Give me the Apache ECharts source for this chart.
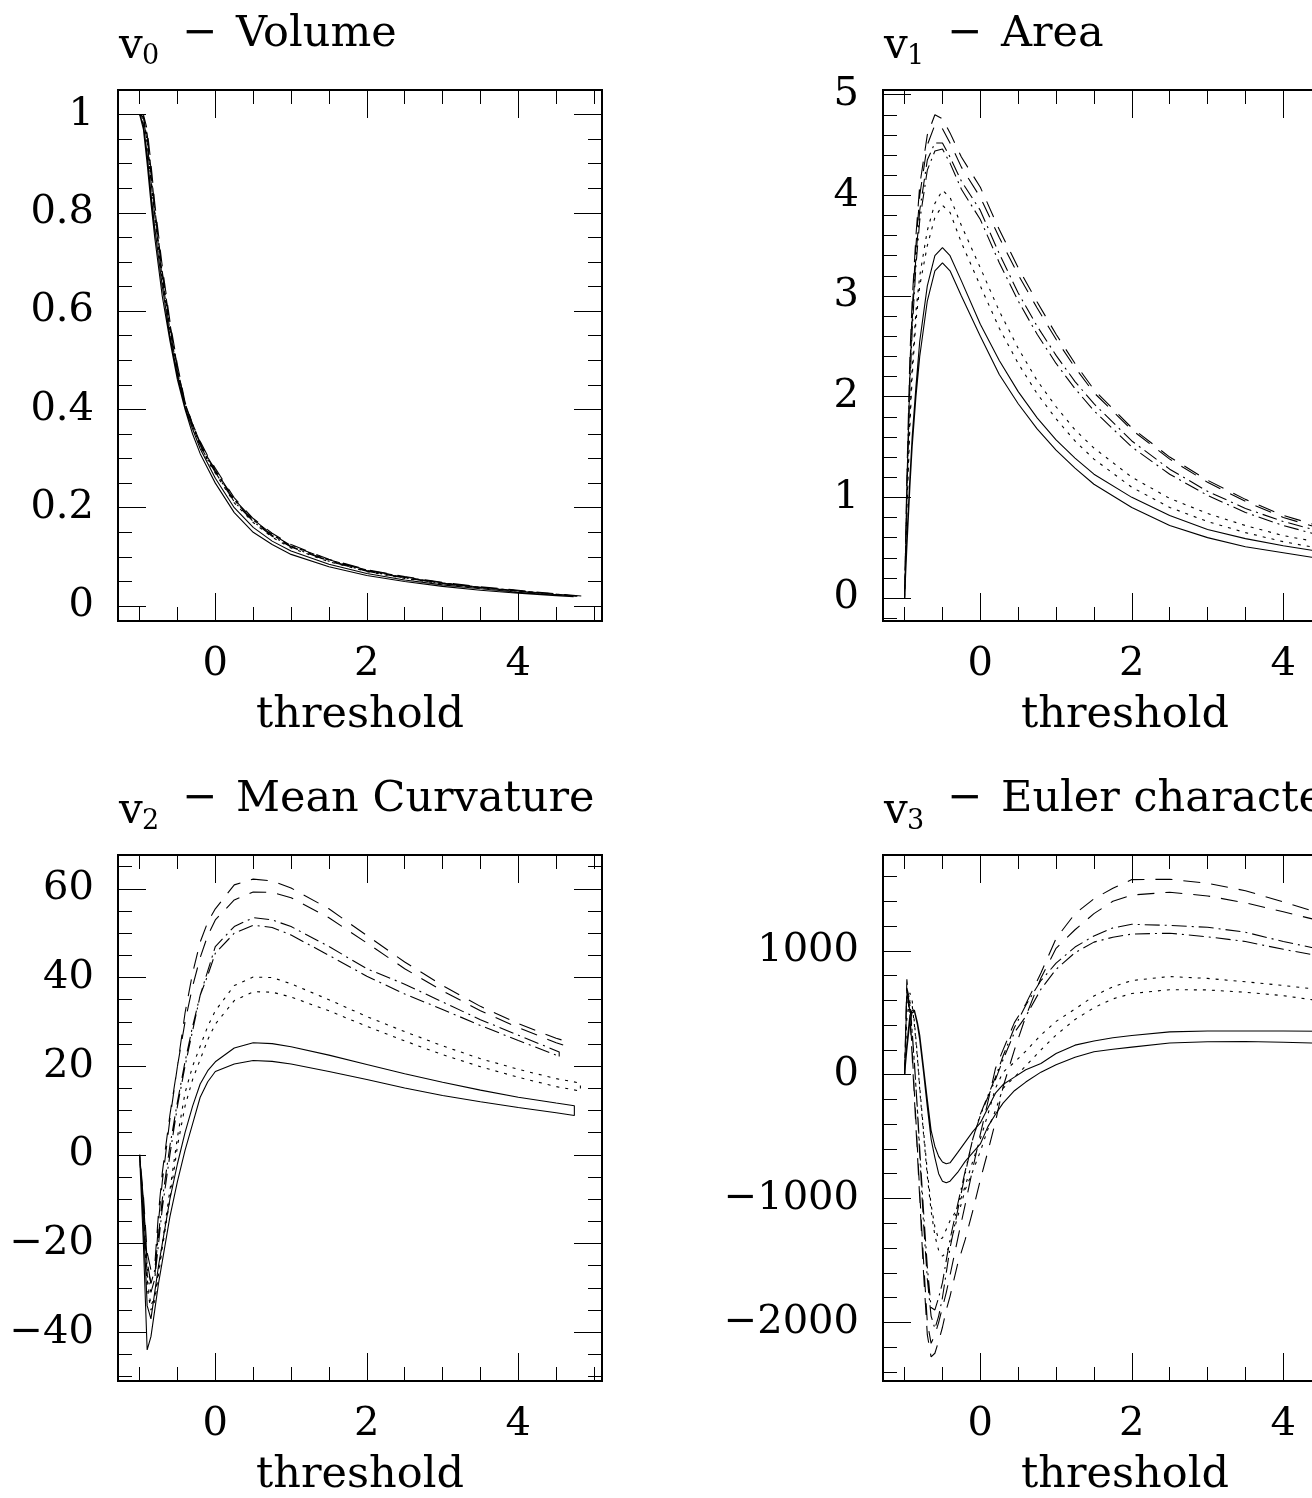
<!DOCTYPE html>
<html><head><meta charset="utf-8">
<script src="https://cdn.jsdelivr.net/npm/echarts@6/dist/echarts.min.js"></script>
<style>html,body{margin:0;padding:0;background:#fff;overflow:hidden;width:1312px;height:1498px}#c{width:1367px;height:1498px}</style>
</head><body><div id="c"></div><script>
// ---------- tick labels ----------
const X_MAJOR = [0, 2, 4];
const X_MINOR = [-1, -0.5, 0, 0.5, 1, 1.5, 2, 2.5, 3, 3.5, 4, 4.5, 5];
const Y0_MAJOR = [0, 0.2, 0.4, 0.6, 0.8, 1];
const Y0_MINOR = [0,0.05,0.1,0.15,0.2,0.25,0.3,0.35,0.4,0.45,0.5,0.55,0.6,0.65,0.7,0.75,0.8,0.85,0.9,0.95,1];
const Y1_MAJOR = [0, 1, 2, 3, 4, 5];
const Y1_MINOR = [-0.2,0,0.2,0.4,0.6,0.8,1,1.2,1.4,1.6,1.8,2,2.2,2.4,2.6,2.8,3,3.2,3.4,3.6,3.8,4,4.2,4.4,4.6,4.8,5];
const Y2_MAJOR = [-40, -20, 0, 20, 40, 60];
const Y2_MINOR = [-50,-45,-40,-35,-30,-25,-20,-15,-10,-5,0,5,10,15,20,25,30,35,40,45,50,55,60,65];
const Y3_MAJOR = [-2000, -1000, 0, 1000];
const Y3_MINOR = [-2400,-2200,-2000,-1800,-1600,-1400,-1200,-1000,-800,-600,-400,-200,0,200,400,600,800,1000,1200,1400,1600];

// ---------- v0 : Volume ----------
const V0_X = [-1.0,-0.95,-0.9,-0.85,-0.8,-0.7,-0.6,-0.5,-0.4,-0.3,-0.2,-0.1,0,0.25,0.5,0.75,1,1.5,2,2.5,3,3.5,4,4.5];
const V0_END = {solid: 4.73, dot: 4.8, dashdot: 4.78, dash: 4.85};
const V0_SOLID_HI = [1.0,0.98,0.92,0.84,0.77,0.65,0.55,0.47,0.405,0.36,0.32,0.29,0.26,0.20,0.16,0.132,0.112,0.085,0.066,0.053,0.043,0.035,0.028,0.022,0.019];
const V0_SOLID_LO = [1.0,0.97,0.90,0.82,0.75,0.63,0.54,0.46,0.40,0.35,0.31,0.28,0.25,0.19,0.15,0.125,0.105,0.08,0.062,0.05,0.04,0.032,0.026,0.021,0.018];
const V0_DOT_HI = [1.0,0.995,0.95,0.87,0.80,0.67,0.565,0.48,0.41,0.37,0.33,0.30,0.275,0.215,0.175,0.145,0.122,0.093,0.072,0.058,0.047,0.038,0.031,0.024,0.02];
const V0_DOT_LO = [1.0,0.99,0.94,0.86,0.79,0.66,0.56,0.475,0.41,0.365,0.325,0.295,0.27,0.21,0.17,0.14,0.118,0.09,0.07,0.056,0.045,0.037,0.03,0.023,0.019];
const V0_DD_HI = [1.0,0.995,0.955,0.88,0.805,0.675,0.57,0.483,0.412,0.37,0.332,0.302,0.277,0.217,0.176,0.146,0.123,0.094,0.073,0.059,0.047,0.038,0.031,0.024,0.02];
const V0_DD_LO = [1.0,0.99,0.945,0.865,0.795,0.665,0.562,0.477,0.41,0.366,0.327,0.297,0.272,0.212,0.172,0.142,0.12,0.091,0.071,0.057,0.046,0.037,0.03,0.023,0.019];
const V0_DASH_HI = [1.0,1.0,0.97,0.90,0.82,0.69,0.58,0.49,0.415,0.37,0.335,0.305,0.28,0.22,0.178,0.148,0.125,0.095,0.074,0.06,0.048,0.039,0.032,0.025,0.02];
const V0_DASH_LO = [1.0,0.995,0.96,0.89,0.81,0.68,0.575,0.485,0.41,0.367,0.33,0.30,0.275,0.215,0.174,0.144,0.121,0.092,0.072,0.058,0.046,0.038,0.031,0.024,0.019];

// ---------- v1 : Area ----------
const V1_X = [-1.0,-0.97,-0.93,-0.9,-0.85,-0.8,-0.7,-0.6,-0.5,-0.4,-0.25,0,0.25,0.5,0.75,1,1.25,1.5,2,2.5,3,3.5,4,4.5];
const V1_END = {solid: 4.8, dot: 4.8, dashdot: 4.8, dash: 4.8};
const V1_DASH_HI = [0,1.2,2.4,2.95,3.6,4.1,4.6,4.8,4.76,4.62,4.38,4.08,3.66,3.28,2.94,2.62,2.33,2.07,1.69,1.4,1.17,0.98,0.82,0.71,0.65];
const V1_DASH_LO = [0,1.1,2.3,2.85,3.5,4.0,4.5,4.70,4.66,4.52,4.28,3.98,3.58,3.21,2.88,2.57,2.29,2.04,1.67,1.38,1.15,0.96,0.8,0.69,0.63];
const V1_DD_HI = [0,1.1,2.2,2.75,3.4,3.85,4.35,4.52,4.52,4.38,4.14,3.85,3.42,3.03,2.7,2.41,2.15,1.93,1.56,1.28,1.06,0.89,0.76,0.66,0.61];
const V1_DD_LO = [0,1.0,2.1,2.65,3.3,3.75,4.25,4.44,4.46,4.32,4.06,3.76,3.33,2.95,2.62,2.33,2.08,1.86,1.5,1.23,1.02,0.85,0.72,0.62,0.57];
const V1_DOT_HI = [0,0.9,1.8,2.3,2.85,3.2,3.65,3.92,4.05,3.98,3.7,3.28,2.85,2.48,2.16,1.9,1.67,1.49,1.2,0.99,0.84,0.72,0.62,0.55,0.51];
const V1_DOT_LO = [0,0.85,1.7,2.2,2.75,3.1,3.5,3.78,3.9,3.83,3.53,3.1,2.68,2.33,2.03,1.78,1.56,1.38,1.1,0.9,0.76,0.65,0.56,0.49,0.46];
const V1_SOLID_HI = [0,0.6,1.2,1.6,2.1,2.55,3.1,3.4,3.48,3.4,3.15,2.72,2.36,2.05,1.79,1.57,1.39,1.23,1.0,0.82,0.68,0.59,0.52,0.46,0.43];
const V1_SOLID_LO = [0,0.5,1.1,1.5,2.0,2.4,2.95,3.25,3.33,3.25,3.0,2.6,2.22,1.93,1.68,1.47,1.29,1.13,0.9,0.72,0.6,0.51,0.45,0.39,0.36];

// ---------- v2 : Mean Curvature ----------
const V2_X = [-1.0,-0.95,-0.9,-0.85,-0.8,-0.75,-0.7,-0.6,-0.5,-0.4,-0.3,-0.2,-0.1,0,0.25,0.5,0.75,1,1.5,2,2.5,3,3.5,4,4.5];
const V2_END = {solid: 4.74, dot: 4.82, dashdot: 4.54, dash: 4.62};
const V2_SOLID_HI = [0,-14,-34,-37,-31,-25,-20,-10,-2,5,11,16,19,21,24.1,25.3,25.1,24.4,22.5,20.4,18.3,16.4,14.6,13,11.7,11.1];
const V2_SOLID_LO = [0,-20,-44,-41,-35,-29,-24,-14,-6,1,7,13,16.5,18.8,20.5,21.3,21.1,20.5,18.8,17,15.1,13.4,12,10.7,9.5,8.9];
const V2_DOT_HI = [0,-12,-28,-34,-32,-26,-20,-8,4,14,20,24.5,29,32.5,38.2,40.1,40,38.6,35,31.2,27.8,24.6,21.7,19.3,17.2,16.2];
const V2_DOT_LO = [0,-13,-30,-35,-33,-27,-21,-10,2,11,17,21.5,26,29.5,34.8,36.8,36.7,35.6,32.5,29,25.7,22.6,19.9,17.5,15.4,14.4];
const V2_DD_HI = [0,-12,-27,-31,-28,-20,-12,0,11,20,28,36,41.5,47,51.5,53.5,53,51.5,47,42,38.5,34.5,30.5,27,23.5,23.2];
const V2_DD_LO = [0,-11,-25,-29,-26,-18,-10,2,12,21,29,36,40.5,45.5,50,51.8,51.3,49.6,45,40.3,36.3,32.8,29.2,25.8,22.5,22.0];
const V2_DASH_HI = [0,-10,-24,-29,-28,-15,-6,8,20,32,41,48,52.5,55.5,60.9,62.2,61.8,60.2,55.5,49.5,43.5,38.2,33.5,29.6,26.3,25.7];
const V2_DASH_LO = [0,-9,-22,-26,-25,-13,-4,9,20,30,38,44.5,49.5,53,57.5,59.3,59.2,58,53.5,47.8,42,37,32.5,28.7,25.3,24.6];

// ---------- v3 : Euler characteristic ----------
const V3_X = [-1,-0.97,-0.93,-0.9,-0.87,-0.83,-0.8,-0.75,-0.7,-0.65,-0.6,-0.55,-0.5,-0.45,-0.4,-0.3,-0.2,-0.1,0,0.1,0.2,0.3,0.45,0.6,0.8,1,1.25,1.5,1.75,2,2.5,3,3.5,4,4.5];
const V3_END = {solid: 4.8, dot: 4.8, dashdot: 4.8, dash: 4.8};
const V3_SOLID_HI = [0,250,480,520,520,420,320,60,-200,-450,-580,-660,-705,-720,-712,-630,-545,-460,-390,-270,-150,-80,-20,40,90,170,238,272,298,316,345,352,352,352,350,348];
const V3_SOLID_LO = [0,200,430,500,510,400,280,20,-260,-520,-670,-800,-860,-874,-860,-790,-700,-630,-560,-420,-320,-230,-130,-60,20,80,140,185,205,222,255,265,267,262,253,248];
const V3_DOT_HI = [0,550,660,600,420,150,-100,-450,-780,-1050,-1230,-1330,-1320,-1250,-1180,-1080,-900,-700,-520,-320,-110,20,100,190,320,430,530,635,710,760,792,777,750,720,685,660];
const V3_DOT_LO = [0,450,600,560,400,130,-120,-480,-820,-1100,-1300,-1420,-1466,-1440,-1370,-1150,-930,-780,-620,-440,-290,-110,-20,70,200,320,445,540,612,655,686,684,665,638,595,570];
const V3_DD_HI = [0,700,600,350,100,-300,-650,-1200,-1650,-1950,-2050,-1950,-1800,-1600,-1400,-1100,-800,-520,-320,-170,-20,150,380,560,760,900,1030,1120,1185,1214,1205,1190,1150,1075,1010,975];
const V3_DD_LO = [0,650,560,330,80,-280,-600,-1100,-1550,-1880,-1900,-1800,-1680,-1500,-1330,-1050,-780,-520,-330,-180,-40,120,340,470,690,850,985,1070,1110,1135,1142,1113,1075,1012,955,920];
const V3_DASH_HI = [0,770,500,200,-150,-600,-950,-1500,-2000,-2170,-2100,-2000,-1880,-1760,-1620,-1330,-1050,-760,-480,-220,50,200,420,570,820,1100,1300,1420,1505,1575,1578,1545,1485,1395,1300,1240];
const V3_DASH_LO = [0,700,450,150,-200,-650,-1000,-1600,-2100,-2280,-2250,-2150,-2040,-1900,-1790,-1530,-1333,-1100,-850,-620,-380,-100,200,470,780,1020,1170,1300,1400,1450,1473,1443,1387,1315,1240,1200];

// ---------- layout / style ----------
const FONT = 'DejaVu Serif';
const LINE_TYPES = {solid: 'solid', dot: [3, 6], dashdot: [15, 5, 2, 5], dash: [17, 11]};
const X_RANGE = [-1.285, 5.105];

const panels = [
  {sub: '0', name: 'Volume', left: 118, top: 90, y: [-0.0305, 1.0498], yMajor: Y0_MAJOR, yMinor: Y0_MINOR,
   x: V0_X, end: V0_END, bands: {solid: [V0_SOLID_HI, V0_SOLID_LO], dot: [V0_DOT_HI, V0_DOT_LO], dashdot: [V0_DD_HI, V0_DD_LO], dash: [V0_DASH_HI, V0_DASH_LO]}},
  {sub: '1', name: 'Area', left: 883, top: 90, y: [-0.228, 5.046], yMajor: Y1_MAJOR, yMinor: Y1_MINOR,
   x: V1_X, end: V1_END, bands: {solid: [V1_SOLID_HI, V1_SOLID_LO], dot: [V1_DOT_HI, V1_DOT_LO], dashdot: [V1_DD_HI, V1_DD_LO], dash: [V1_DASH_HI, V1_DASH_LO]}},
  {sub: '2', name: 'Mean Curvature', left: 118, top: 855, y: [-51.0, 67.64], yMajor: Y2_MAJOR, yMinor: Y2_MINOR,
   x: V2_X, end: V2_END, bands: {solid: [V2_SOLID_HI, V2_SOLID_LO], dot: [V2_DOT_HI, V2_DOT_LO], dashdot: [V2_DD_HI, V2_DD_LO], dash: [V2_DASH_HI, V2_DASH_LO]}},
  {sub: '3', name: 'Euler characteristic', left: 883, top: 855, y: [-2474, 1773.6], yMajor: Y3_MAJOR, yMinor: Y3_MINOR,
   x: V3_X, end: V3_END, bands: {solid: [V3_SOLID_HI, V3_SOLID_LO], dot: [V3_DOT_HI, V3_DOT_LO], dashdot: [V3_DD_HI, V3_DD_LO], dash: [V3_DASH_HI, V3_DASH_LO]}}
];

const fmt = v => String(v).replace('-', '\u2212');
const grid = [], xAxis = [], yAxis = [], series = [], graphic = [];
const tickStyle = {color: '#000', width: 1};

panels.forEach((p, gi) => {
  grid.push({left: p.left, top: p.top, width: 484, height: 531, show: true, borderWidth: 2, borderColor: '#000', backgroundColor: 'transparent', containLabel: false});
  const base = {gridIndex: gi, type: 'value', axisLine: {show: false, onZero: false}, splitLine: {show: false}};
  const xb = Object.assign({}, base, {min: X_RANGE[0], max: X_RANGE[1]});
  xAxis.push(Object.assign({}, xb, {position: 'bottom',
    axisTick: {show: true, inside: true, length: 28, customValues: X_MAJOR, lineStyle: tickStyle},
    axisLabel: {show: true, customValues: X_MAJOR, margin: 24, color: '#000', fontFamily: FONT, fontSize: 40, formatter: fmt},
    name: 'threshold', nameLocation: 'middle', nameGap: 73, nameTextStyle: {color: '#000', fontFamily: FONT, fontSize: 43}}));
  xAxis.push(Object.assign({}, xb, {position: 'bottom', axisTick: {show: true, inside: true, length: 14, customValues: X_MINOR, lineStyle: tickStyle}, axisLabel: {show: false}}));
  xAxis.push(Object.assign({}, xb, {position: 'top', axisTick: {show: true, inside: true, length: 28, customValues: X_MAJOR, lineStyle: tickStyle}, axisLabel: {show: false}}));
  xAxis.push(Object.assign({}, xb, {position: 'top', axisTick: {show: true, inside: true, length: 14, customValues: X_MINOR, lineStyle: tickStyle}, axisLabel: {show: false}}));
  const yb = Object.assign({}, base, {min: p.y[0], max: p.y[1]});
  yAxis.push(Object.assign({}, yb, {position: 'left',
    axisTick: {show: true, inside: true, length: 28, customValues: p.yMajor, lineStyle: tickStyle},
    axisLabel: {show: true, customValues: p.yMajor, margin: 24, color: '#000', fontFamily: FONT, fontSize: 40, formatter: fmt}}));
  yAxis.push(Object.assign({}, yb, {position: 'left', axisTick: {show: true, inside: true, length: 14, customValues: p.yMinor, lineStyle: tickStyle}, axisLabel: {show: false}}));
  yAxis.push(Object.assign({}, yb, {position: 'right', axisTick: {show: true, inside: true, length: 28, customValues: p.yMajor, lineStyle: tickStyle}, axisLabel: {show: false}}));
  yAxis.push(Object.assign({}, yb, {position: 'right', axisTick: {show: true, inside: true, length: 14, customValues: p.yMinor, lineStyle: tickStyle}, axisLabel: {show: false}}));

  Object.keys(p.bands).forEach(k => {
    const [hi, lo] = p.bands[k];
    const xs = p.x.concat([p.end[k]]);
    const fwd = xs.map((x, i) => [x, hi[i]]);
    const back = xs.map((x, i) => [x, lo[i]]).reverse();
    series.push({type: 'line', xAxisIndex: gi * 4, yAxisIndex: gi * 4, data: fwd.concat(back),
      showSymbol: false, symbol: 'none', smooth: false, clip: true, silent: true, animation: false,
      lineStyle: {color: '#000', width: 1.1, type: LINE_TYPES[k]}});
  });

  // title: v_n − Name
  const x0 = p.left, base0 = p.top - 44;
  graphic.push({type: 'text', left: x0 + 1, top: base0 - 20, style: {text: 'v', fill: '#000', fontFamily: FONT, fontSize: 42}});
  graphic.push({type: 'text', left: x0 + 24, top: base0 - 3, style: {text: p.sub, fill: '#000', fontFamily: FONT, fontSize: 27}});
  graphic.push({type: 'text', left: x0 + 64, top: base0 - 33, style: {text: '\u2212', fill: '#000', fontFamily: FONT, fontSize: 42}});
  graphic.push({type: 'text', left: x0 + 118, top: base0 - 33, style: {text: p.name, fill: '#000', fontFamily: FONT, fontSize: 43}});
});

const chart = echarts.init(document.getElementById('c'), null, {renderer: 'canvas'});
chart.setOption({animation: false, backgroundColor: '#fff', grid, xAxis, yAxis, series, graphic});
</script></body></html>
